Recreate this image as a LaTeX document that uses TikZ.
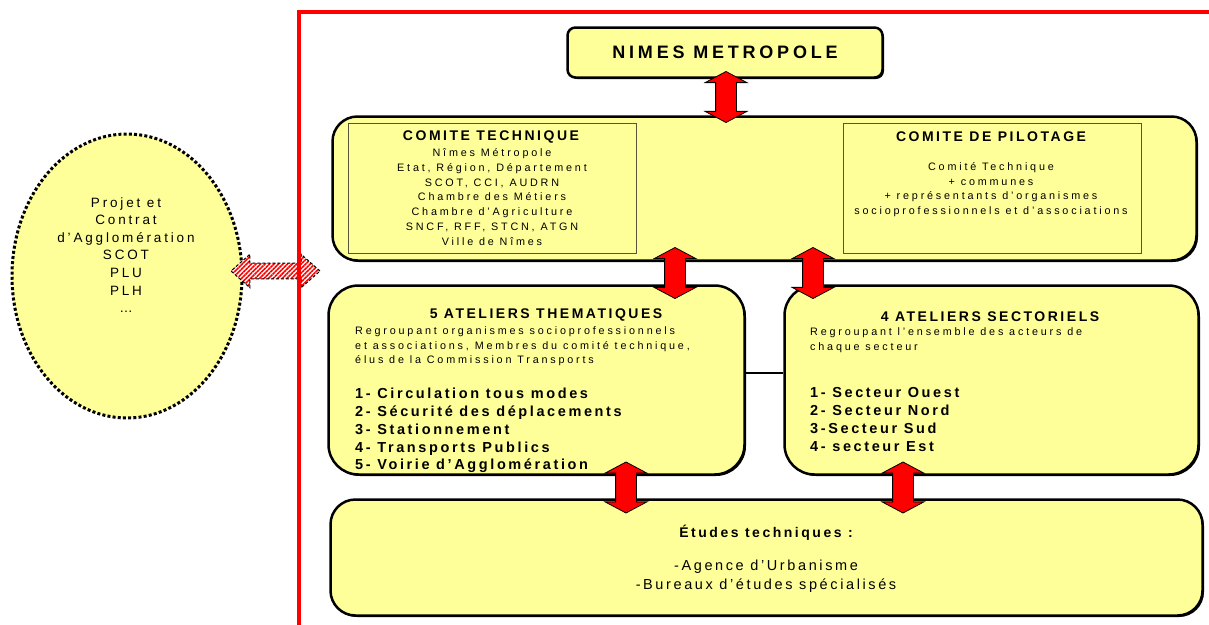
\documentclass[tikz,border=0pt]{standalone}
\usepackage{fontspec}
\setmainfont{Liberation Sans}
\newfontfamily\wideA[LetterSpace=18]{Liberation Sans}
\newfontfamily\wideB[LetterSpace=26]{Liberation Sans}
\newfontfamily\wideC[LetterSpace=21]{Liberation Sans}
\usetikzlibrary{shapes.geometric,shapes.arrows,shadows,patterns.meta}

\definecolor{boxyellow}{RGB}{255,255,153}
\definecolor{edgegray}{RGB}{85,85,60}

\tikzset{
  bigbox/.style={draw=black, line width=2.5pt, fill=boxyellow, rounded corners=#1,
    drop shadow={shadow xshift=1.5pt, shadow yshift=-1.5pt, opacity=1, fill=black}},
  bigbox/.default=25pt,
  innerbox/.style={draw=edgegray, line width=0.9pt, fill=boxyellow},
  headtext/.style={font=\wideA\bfseries\fontsize{14}{17}\selectfont, inner sep=0},
  bodytext/.style={font=\wideB\fontsize{10.8}{14.7}\selectfont, inner sep=0, align=center},
  listtext/.style={font=\wideA\bfseries\fontsize{14.5}{17.8}\selectfont, inner sep=0, align=left, anchor=west},
  redarrow/.style={double arrow, draw=black, line width=0.8pt, fill=red, inner xsep=0, inner ysep=10pt,
    minimum height=51pt, double arrow head extend=10.5pt,
    double arrow tip angle=124, rotate=90}
}

\begin{document}
\begin{tikzpicture}[x=1pt,y=-1pt]
\useasboundingbox (0,0) rectangle (1209,624);

% left side
\node[ellipse, draw=black, line width=3pt, dash pattern=on 3pt off 2.2pt, fill=boxyellow,
  minimum width=230pt, minimum height=284pt, inner sep=0] (projet) at (127,276) {};
\node[font=\wideC\fontsize{13.5}{17.6}\selectfont, align=center, inner sep=0] (projettext) at (126,255)
  {Projet et\\Contrat\\d’Agglomération\\SCOT\\PLU\\PLH\\…};

\node[double arrow, draw=black, densely dashed, line width=1pt,
  preaction={fill=white}, pattern={Lines[angle=45,distance=3.2pt,line width=1.6pt]}, pattern color=red,
  minimum height=89pt, inner xsep=0, inner ysep=7pt, double arrow head extend=9pt,
  double arrow tip angle=83] (lien) at (275.5,271) {};

% cadre rouge
\draw[red, line width=4pt] (1209,12) -- (299,12) -- (299,626);

% boites
\node[bigbox=8pt, minimum width=315pt, minimum height=50pt,
  font=\wideC\bfseries\fontsize{18}{20}\selectfont] (nimes) at (725,52.5) {NIMES METROPOLE};

\node[bigbox, minimum width=864pt, minimum height=144pt] (comites) at (764.5,188.5) {};
\node[innerbox, minimum width=288pt, minimum height=130pt] (ctbox) at (492,188) {};
\node[innerbox, minimum width=298pt, minimum height=130pt] (cpbox) at (992,188) {};

\node[headtext] (cttitle) at (491,137) {COMITE TECHNIQUE};
\node[bodytext] (ctlist) at (492,197) {Nîmes Métropole\\Etat, Région, Département\\SCOT, CCI, AUDRN\\Chambre des Métiers\\Chambre d’Agriculture\\SNCF, RFF, STCN, ATGN\\Ville de Nîmes};

\node[headtext] (cptitle) at (991,137) {COMITE DE PILOTAGE};
\node[bodytext] (cplist) at (991,189.5) {Comité Technique\\+ communes\\+ représentants d’organismes\\socioprofessionnels et d’associations};

\node[bigbox=30pt, minimum width=416pt, minimum height=189pt] (ath) at (536.5,380) {};
\node[bigbox=30pt, minimum width=414pt, minimum height=189pt] (ase) at (991.5,380) {};
\draw[line width=2pt] ([yshift=7pt]ath.east) -- ([yshift=7pt]ase.west);

\node[headtext] (athtitle) at (546,315) {5 ATELIERS THEMATIQUES};
\node[bodytext, align=left, anchor=west] (athtext) at (355,346.5) {Regroupant organismes socioprofessionnels\\et associations, Membres du comité technique,\\élus de la Commission Transports};
\node[listtext] (athlist) at (355,430.5) {1- Circulation tous modes\\2- Sécurité des déplacements\\3- Stationnement\\4- Transports Publics\\5- Voirie d’Agglomération};

\node[headtext] (asetitle) at (990,317) {4 ATELIERS SECTORIELS};
\node[bodytext, align=left, anchor=west] (asetext) at (810,340) {Regroupant l’ensemble des acteurs de\\chaque secteur};
\node[listtext] (aselist) at (810,419.5) {1- Secteur Ouest\\2- Secteur Nord\\3-Secteur Sud\\4- secteur Est};

\node[bigbox, minimum width=872pt, minimum height=116pt] (etudes) at (766.5,557.5) {};
\node[headtext] (etudestitle) at (766,533) {Études techniques :};
\node[font=\wideA\fontsize{14.5}{19}\selectfont, align=center, inner sep=0] (etudestext) at (766,576.5) {-Agence d’Urbanisme\\-Bureaux d’études spécialisés};

% fleches
\node[redarrow] (arrnimes) at (726,97) {};
\node[redarrow] (arrct) at (675,273) {};
\node[redarrow] (arrcp) at (813,273) {};
\node[redarrow] (arrth) at (626,487.5) {};
\node[redarrow] (arrse) at (903,487.5) {};

\end{tikzpicture}
\end{document}
